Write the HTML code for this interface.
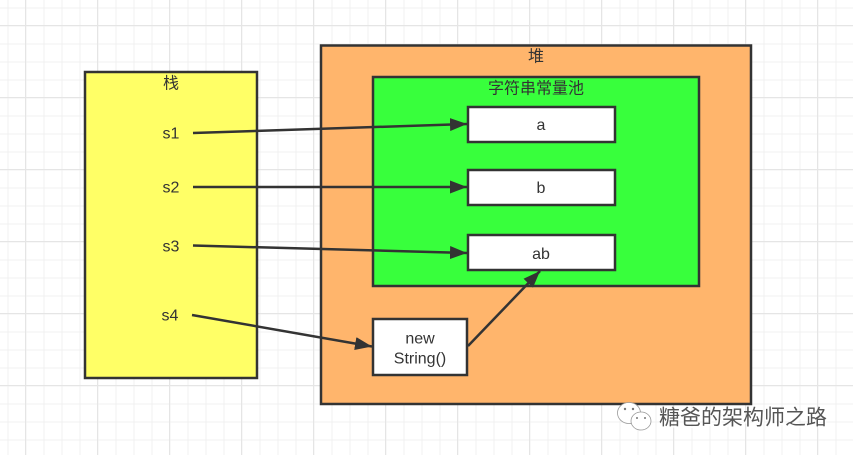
<!DOCTYPE html>
<html>
<head>
<meta charset="utf-8">
<style>
html,body{margin:0;padding:0;background:#fff;}
svg{display:block;}
text{font-family:"Liberation Sans","Noto Sans CJK SC",sans-serif;fill:#333;font-size:16px;text-anchor:middle;}
</style>
</head>
<body>
<svg width="853" height="455" viewBox="0 0 853 455" xmlns="http://www.w3.org/2000/svg">
<defs>
<pattern id="minor" x="7.500" y="7.500" width="18" height="18" patternUnits="userSpaceOnUse">
<path d="M0.500 0V18M0 0.500H18" stroke="#f1f1f1" stroke-width="1" fill="none"/>
</pattern>
<pattern id="major" x="25" y="25" width="72" height="72" patternUnits="userSpaceOnUse">
<path d="M0.500 0V72M0 0.500H72" stroke="#e5e5e5" stroke-width="1" fill="none"/>
</pattern>
<marker id="arr" viewBox="0 0 17 13" refX="17" refY="6.500" markerWidth="17" markerHeight="13" markerUnits="userSpaceOnUse" orient="auto">
<path d="M0 0L17 6.500L0 13Z" fill="#333"/>
</marker>
</defs>
<rect width="853" height="455" fill="#fff"/>
<rect width="853" height="455" fill="url(#minor)"/>
<rect width="853" height="455" fill="url(#major)"/>

<rect x="85" y="72" width="172" height="306" fill="#ffff66" stroke="#333" stroke-width="2.500"/>
<rect x="321" y="45.500" width="430" height="358.500" fill="#ffb56c" stroke="#333" stroke-width="2.500"/>
<rect x="373" y="77" width="326" height="209" fill="#38ff3c" stroke="#333" stroke-width="2.500"/>
<rect x="468" y="107" width="147" height="35" fill="#fff" stroke="#333" stroke-width="2.500"/>
<rect x="468" y="170" width="147" height="35" fill="#fff" stroke="#333" stroke-width="2.500"/>
<rect x="468" y="235" width="147" height="35" fill="#fff" stroke="#333" stroke-width="2.500"/>
<rect x="373" y="319" width="94" height="56" fill="#fff" stroke="#333" stroke-width="2.500"/>

<g stroke="#333" stroke-width="2.500" fill="none">
<line x1="193" y1="133" x2="467" y2="124" marker-end="url(#arr)"/>
<line x1="193" y1="187" x2="467" y2="187" marker-end="url(#arr)"/>
<line x1="193" y1="245.500" x2="467" y2="253" marker-end="url(#arr)"/>
<line x1="192" y1="315" x2="372" y2="346.500" marker-end="url(#arr)"/>
<line x1="468" y1="346" x2="540" y2="271" marker-end="url(#arr)"/>
</g>

<text x="171" y="88.500">栈</text>
<text x="171" y="138.500">s1</text>
<text x="171" y="192.500">s2</text>
<text x="171" y="251.500">s3</text>
<text x="170" y="320.500">s4</text>
<text x="536" y="61.500">堆</text>
<text x="536" y="93.500">字符串常量池</text>
<text x="541" y="130">a</text>
<text x="541" y="193">b</text>
<text x="541" y="259">ab</text>
<text x="420" y="343.500">new</text>
<text x="420" y="363.500">String()</text>

<g fill="#fff" stroke="#999" stroke-width="0.800">
<ellipse cx="629" cy="413" rx="11.500" ry="10.500"/>
<ellipse cx="641" cy="421" rx="10" ry="9"/>
</g>
<g fill="#777">
<circle cx="625" cy="409" r="1.200"/><circle cx="633" cy="409" r="1.200"/>
<circle cx="637" cy="418" r="1"/><circle cx="645" cy="418" r="1"/>
</g>
<text x="743.500" y="425.500" style="font-size:21px;fill:#fff" transform="translate(1,1)">糖爸的架构师之路</text>
<text x="743" y="424.500" style="font-size:21px;fill:#555">糖爸的架构师之路</text>
</svg>
</body>
</html>
